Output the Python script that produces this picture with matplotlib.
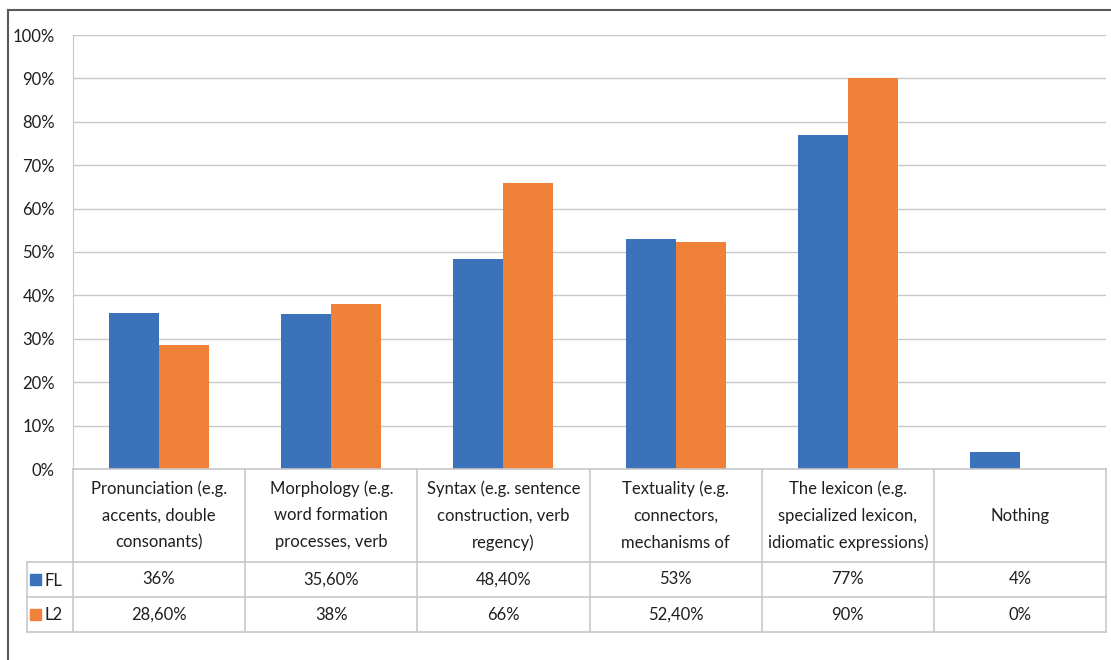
import numpy as np
import matplotlib
matplotlib.use("Agg")
from matplotlib import pyplot as plt
from matplotlib.patches import Rectangle

categories = [
    ["Pronunciation (e.g.", "accents, double", "consonants)"],
    ["Morphology (e.g.", "word formation", "processes, verb"],
    ["Syntax (e.g. sentence", "construction, verb", "regency)"],
    ["Textuality (e.g.", "connectors,", "mechanisms of"],
    ["The lexicon (e.g.", "specialized lexicon,", "idiomatic expressions)"],
    ["Nothing"],
]
fl_values = [36, 35.6, 48.4, 53, 77, 4]
l2_values = [28.6, 38, 66, 52.4, 90, 0]
fl_labels = ["36%", "35,60%", "48,40%", "53%", "77%", "4%"]
l2_labels = ["28,60%", "38%", "66%", "52,40%", "90%", "0%"]
series_names = ["FL", "L2"]
yticks = np.arange(0, 101, 10)

BLUE = "#3B72BA"
ORANGE = "#EF8139"
GRID = "#C8C8C8"
TXT = "#1F1F1F"
FS = 12

plt.rcParams['font.family'] = ['Lato', 'DejaVu Sans']

W, H = 1111, 660
fig = plt.figure(figsize=(W / 100, H / 100), dpi=100)

def px_axes(x0, y0, x1, y1):
    # pixel box (top-left origin) -> figure axes
    return fig.add_axes([x0 / W, 1 - y1 / H, (x1 - x0) / W, (y1 - y0) / H])

# plot area in pixels
PX0, PX1, PY0, PY1 = 73, 1106, 35, 469
ncat = len(categories)
cat_w = (PX1 - PX0) / ncat

ax = px_axes(PX0, PY0, PX1, PY1)
x = np.arange(ncat)
bw = 0.29
ax.bar(x - bw / 2, fl_values, bw, color=BLUE, zorder=3)
ax.bar(x + bw / 2, l2_values, bw, color=ORANGE, zorder=3)
ax.set_xlim(-0.5, ncat - 0.5)
ax.set_ylim(0, 100)
ax.set_yticks(yticks)
ax.set_yticklabels([f"{v}%" for v in yticks], fontsize=FS, color=TXT)
ax.yaxis.grid(True, color=GRID, linewidth=1, zorder=0)
ax.set_xticks([])
ax.tick_params(axis='y', length=0, pad=13)
for s in ["top", "right", "bottom"]:
    ax.spines[s].set_visible(False)
ax.spines["left"].set_color(GRID)

# data table below the plot
TY0, TH_HDR, TROW = 469, 93, 35
TX0 = 27
tab = px_axes(TX0, TY0, PX1, TY0 + TH_HDR + 2 * TROW)
left = -0.5 - (PX0 - TX0) / cat_w
tab.set_xlim(left, ncat - 0.5)
tab.set_ylim(TH_HDR + 2 * TROW, 0)
tab.axis("off")

lw = 1.2
ytot = TH_HDR + 2 * TROW
# horizontal lines
tab.plot([-0.5, ncat - 0.5], [0, 0], color=GRID, lw=lw, clip_on=False)
for yy in [TH_HDR, TH_HDR + TROW, ytot]:
    tab.plot([left, ncat - 0.5], [yy, yy], color=GRID, lw=lw, clip_on=False)
# vertical lines
for i in range(ncat + 1):
    tab.plot([i - 0.5, i - 0.5], [0, ytot], color=GRID, lw=lw, clip_on=False)
tab.plot([left, left], [TH_HDR, ytot], color=GRID, lw=lw, clip_on=False)

# header text
for i, lines in enumerate(categories):
    n = len(lines)
    for j, line in enumerate(lines):
        yy = TH_HDR / 2 + (j - (n - 1) / 2) * 27
        tab.text(i, yy, line, ha="center", va="center", fontsize=FS, color=TXT)

# value rows
for r, (labels, col, name) in enumerate(zip([fl_labels, l2_labels], [BLUE, ORANGE], series_names)):
    yc = TH_HDR + TROW * (r + 0.5)
    for i, lab in enumerate(labels):
        tab.text(i, yc, lab, ha="center", va="center", fontsize=FS, color=TXT)
    sq = 11 / cat_w
    tab.add_patch(Rectangle((left + 3 / cat_w, yc - 5.5), sq, 11, color=col, clip_on=False))
    tab.text(left + 18 / cat_w, yc + 1, name, ha="left", va="center", fontsize=FS, color=TXT)

# outer chart frame (top and left edges only visible)
fig.add_artist(plt.Line2D([8 / W, 1], [1 - 10 / H, 1 - 10 / H], color="#595959", lw=1.5))
fig.add_artist(plt.Line2D([8 / W, 8 / W], [0, 1 - 10 / H], color="#595959", lw=1.5))

fig.savefig("out.png", dpi=100)
